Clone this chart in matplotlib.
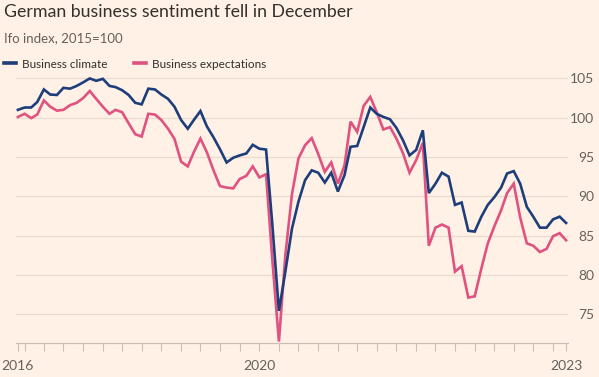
"""German business sentiment (Ifo) line chart"""

import pandas as pd
from matplotlib import pyplot as plt
from matplotlib.lines import Line2D

# Monthly Ifo readings, Dec 2016 - Dec 2023 (2015=100)
months = pd.date_range("2016-12-01", "2023-12-01", freq="MS")

climate = [
    101.0, 101.3, 101.3, 102.0, 103.6, 102.95, 102.9, 103.8, 103.7, 104.05,
    104.5, 105.0, 104.7, 104.95, 104.05, 103.9, 103.5, 102.9, 101.9, 101.7,
    103.7, 103.6, 102.95, 102.4, 101.4, 99.7, 98.6, 99.7, 100.85, 98.9,
    97.5, 96.0, 94.3, 94.9, 95.2, 95.45, 96.55, 96.05, 95.95, 86.5,
    75.4, 80.4, 85.9, 89.3, 92.05, 93.3, 93.0, 91.75, 93.0, 90.6,
    92.7, 96.3, 96.4, 98.8, 101.3, 100.5, 100.1, 99.8, 98.7, 97.1,
    95.2, 95.9, 98.4, 90.4, 91.6, 93.0, 92.5, 88.9, 89.2, 85.6,
    85.5, 87.4, 88.9, 89.9, 91.1, 92.9, 93.2, 91.6, 88.65, 87.4,
    86.0, 86.0, 87.05, 87.4, 86.6,
]

expectations = [
    100.1, 100.5, 99.95, 100.4, 102.2, 101.4, 100.9, 101.0, 101.6, 101.9,
    102.5, 103.4, 102.4, 101.4, 100.5, 101.0, 100.7, 99.3, 97.9, 97.6,
    100.5, 100.4, 99.7, 98.6, 97.3, 94.4, 93.8, 95.6, 97.35, 95.6,
    93.3, 91.3, 91.1, 91.0, 92.2, 92.6, 93.8, 92.4, 92.8, 82.0,
    71.5, 82.5, 90.3, 94.8, 96.5, 97.4, 95.4, 93.1, 94.3, 91.6,
    93.95, 99.5, 98.2, 101.5, 102.65, 100.7, 98.5, 98.8, 97.35, 95.45,
    93.0, 94.6, 96.8, 83.7, 86.0, 86.4, 86.0, 80.4, 81.1, 77.1,
    77.25, 80.8, 84.0, 86.2, 88.2, 90.4, 91.6, 87.3, 84.0, 83.7,
    82.9, 83.3, 84.9, 85.3, 84.4,
]

series_names = ["Business climate", "Business expectations"]
year_labels = {"2016-12-01": "2016", "2020-01-01": "2020", "2023-12-01": "2023"}
y_ticks = [75, 80, 85, 90, 95, 100, 105]

BG = "#fff1e5"
BLUE = "#1e3e7b"
PINK = "#e0527f"
GRID = "#e8dccf"
AXIS = "#c9bfb5"
TEXT = "#33302e"
MUTED = "#66605c"

plt.rcParams["font.family"] = ["Lato", "DejaVu Sans"]

fig = plt.figure(figsize=(5.99, 3.77), dpi=100, facecolor=BG)
W, H = 599, 377
ax = fig.add_axes([16 / W, 1 - 342.7 / H, (568 - 16) / W, (342.7 - 70.6) / H])
ax.set_facecolor(BG)

ax.plot(months, climate, color=BLUE, lw=1.9, solid_joinstyle="miter", zorder=3)
ax.plot(months, expectations, color=PINK, lw=1.9, solid_joinstyle="miter", zorder=2)

pad = pd.Timedelta(days=9)
ax.set_xlim(months[0] - pad, months[-1] + pad)
ax.set_ylim(71.35, 106)

# quarterly ticks plus the two ends
ticks = [months[0]] + list(pd.date_range("2017-01-01", "2023-10-01", freq="QS")) + [months[-1]]
labels = [year_labels.get(t.strftime("%Y-%m-%d"), "") for t in ticks]
ax.set_xticks(ticks, labels=labels)
ax.tick_params(axis="x", length=5.5, width=0.8, color=AXIS, labelcolor=MUTED,
               labelsize=10, pad=7)

ax.yaxis.tick_right()
ax.set_yticks(y_ticks)
ax.tick_params(axis="y", length=0, labelcolor=MUTED, labelsize=10, pad=19)
for lab in ax.get_yticklabels():
    lab.set_horizontalalignment("right")
ax.grid(axis="y", color=GRID, lw=0.9)
ax.set_axisbelow(True)

for side in ["top", "left", "right"]:
    ax.spines[side].set_visible(False)
ax.spines["bottom"].set_color(AXIS)
ax.spines["bottom"].set_linewidth(0.9)

fig.text(4 / W, 1 - 12 / H, "German business sentiment fell in December",
         fontsize=12.8, color=TEXT, va="center", ha="left")
fig.text(4 / W, 1 - 38 / H, "Ifo index, 2015=100",
         fontsize=9.5, color=MUTED, va="center", ha="left")

handles = [Line2D([], [], color=BLUE, lw=2.6), Line2D([], [], color=PINK, lw=2.6)]
fig.legend(handles, series_names, loc="center left", bbox_to_anchor=(4 / W, 1 - 64 / H),
           ncol=2, frameon=False, fontsize=8.5, handlelength=1.0, handletextpad=0.5,
           columnspacing=2.3, borderpad=0, borderaxespad=0, labelcolor=TEXT)

fig.savefig("out.png", dpi=100, facecolor=BG)
